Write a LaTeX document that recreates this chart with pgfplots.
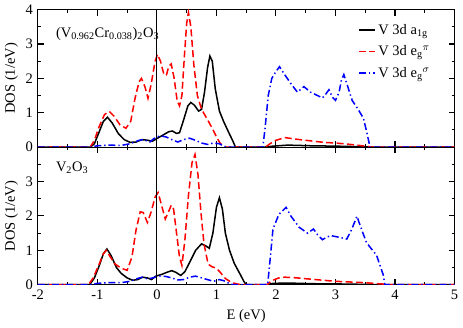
\documentclass[border=0pt]{standalone}
\usepackage{fontspec}
\setmainfont{Liberation Serif}
\usepackage{pgfplots}
\pgfplotsset{compat=1.18}
\usepgfplotslibrary{groupplots}
\definecolor{dosred}{RGB}{255,0,0}
\definecolor{dosblue}{RGB}{0,0,255}
\tikzset{
  a1g/.style={draw=black, line width=1.3pt},
  egpi/.style={draw=dosred, line width=1.3pt, dash pattern=on 6pt off 3pt},
  egsig/.style={draw=dosblue, line width=1.3pt, dash pattern=on 6pt off 2.5pt on 1.2pt off 2.5pt},
}
\pgfplotsset{legend image code/.code={\draw[mark repeat=2,mark phase=2,#1] plot coordinates {(0cm,0cm) (0.25cm,0cm) (0.5cm,0cm)};}}
\begin{document}
\fontsize{12.5}{15}\selectfont
\begin{tikzpicture}
\begin{groupplot}[
  group style={group size=1 by 2, vertical sep=0pt, x descriptions at=edge bottom},
  width=12.63cm, height=4.17cm, scale only axis,
  xmin=-2, xmax=5, ymin=0, ymax=4,
  xtick={-2,-1,0,1,2,3,4,5}, minor x tick num=1,
  minor y tick num=1,
  tick align=inside,
  major tick length=0.18cm, minor tick length=0.09cm,
  tick style={black, line width=0.9pt},
  axis line style={line width=1pt},
  /pgf/number format/assume math mode=true,
  ticklabel style={font=\fontsize{12.5}{15}\selectfont},
  label style={font=\fontsize{12.5}{15}\selectfont},
  ylabel={DOS (1/eV)},
  ylabel shift=-2pt,
]
\nextgroupplot[ytick={0,1,2,3,4},
  legend style={at={(0.955,0.93)}, anchor=north east, draw=none, fill=none,
    font=\fontsize{12.5}{15}\selectfont, row sep=4pt},
  legend cell align=left]
\addplot[a1g] coordinates {(-2,0)(-1.12,0)(-1.05,0.1)(-0.98,0.4)(-0.9,0.75)(-0.83,0.87)(-0.75,0.7)(-0.65,0.4)(-0.55,0.22)(-0.45,0.14)(-0.35,0.15)(-0.25,0.22)(-0.15,0.2)(-0.08,0.17)(0.0,0.25)(0.1,0.35)(0.2,0.45)(0.26,0.47)(0.33,0.4)(0.38,0.42)(0.45,0.8)(0.52,1.2)(0.57,1.3)(0.63,1.22)(0.7,1.05)(0.75,1.1)(0.8,1.6)(0.85,2.3)(0.89,2.65)(0.93,2.5)(0.98,1.7)(1.05,1.05)(1.12,0.75)(1.2,0.45)(1.27,0.2)(1.32,0)(1.8,0)(1.95,0.03)(2.2,0.06)(2.6,0.04)(3.0,0.03)(3.5,0.01)(3.7,0)(5,0)};
\addlegendentry{V 3d a\textsubscript{1g}}
\addplot[egpi] coordinates {(-2,0)(-1.12,0)(-1.05,0.2)(-0.97,0.6)(-0.88,0.95)(-0.8,1.04)(-0.72,0.9)(-0.62,0.65)(-0.52,0.55)(-0.44,0.75)(-0.37,1.4)(-0.3,1.9)(-0.26,2.0)(-0.2,1.75)(-0.15,1.42)(-0.1,1.8)(-0.03,2.5)(0.01,2.7)(0.06,2.5)(0.12,2.1)(0.16,2.1)(0.2,2.35)(0.24,2.42)(0.29,2.0)(0.34,1.35)(0.38,1.2)(0.42,1.5)(0.46,2.6)(0.5,3.6)(0.53,3.92)(0.57,3.5)(0.62,2.4)(0.68,1.5)(0.75,1.1)(0.85,0.8)(0.93,0.55)(1.0,0.3)(1.06,0.12)(1.12,0.03)(1.17,0)(1.82,0)(1.9,0.1)(2.0,0.2)(2.15,0.28)(2.3,0.24)(2.5,0.2)(2.8,0.14)(3.0,0.12)(3.2,0.09)(3.4,0.05)(3.55,0.02)(3.62,0)(5,0)};
\addlegendentry{V 3d e\textsubscript{g}\textsuperscript{$\pi$}}
\addplot[egsig] coordinates {(-2,0)(-1.12,0)(-1.0,0.04)(-0.8,0.06)(-0.6,0.05)(-0.45,0.1)(-0.3,0.2)(-0.22,0.22)(-0.12,0.15)(-0.05,0.25)(0.05,0.33)(0.15,0.3)(0.25,0.22)(0.35,0.15)(0.45,0.22)(0.55,0.26)(0.65,0.2)(0.75,0.12)(0.85,0.08)(0.95,0.12)(1.05,0.1)(1.12,0.03)(1.18,0)(1.78,0)(1.82,0.6)(1.87,1.5)(1.93,2.0)(2.0,2.2)(2.06,2.34)(2.15,2.1)(2.25,1.85)(2.36,1.6)(2.47,1.76)(2.58,1.6)(2.7,1.5)(2.78,1.43)(2.84,1.55)(2.89,1.67)(2.95,1.45)(3.0,1.36)(3.06,1.6)(3.1,1.95)(3.14,2.11)(3.19,1.85)(3.28,1.36)(3.38,1.1)(3.47,0.84)(3.53,0.4)(3.58,0)(5,0)};
\addlegendentry{V 3d e\textsubscript{g}\textsuperscript{$\sigma$}}
\addplot[black, line width=1pt, forget plot] coordinates {(0,0)(0,4)};
\node[anchor=west] at (axis cs:-1.78,3.3) {(V\textsubscript{0.962}Cr\textsubscript{0.038})\textsubscript{2}O\textsubscript{3}};
\nextgroupplot[ytick={0,1,2,3,4}, yticklabels={0,1,2,3,}, xlabel={E (eV)}]
\addplot[a1g] coordinates {(-2,0)(-1.13,0)(-1.05,0.2)(-0.97,0.55)(-0.9,0.9)(-0.84,1.04)(-0.77,0.85)(-0.68,0.5)(-0.6,0.33)(-0.5,0.2)(-0.41,0.13)(-0.32,0.15)(-0.24,0.22)(-0.16,0.2)(-0.09,0.15)(-0.02,0.25)(0.08,0.3)(0.18,0.37)(0.25,0.41)(0.32,0.36)(0.4,0.27)(0.47,0.38)(0.55,0.65)(0.65,1.0)(0.75,1.19)(0.83,1.12)(0.88,1.06)(0.94,1.5)(1.0,2.25)(1.05,2.53)(1.1,2.2)(1.15,1.5)(1.22,1.0)(1.3,0.62)(1.4,0.3)(1.46,0.1)(1.5,0)(1.85,0)(1.95,0.04)(2.2,0.05)(2.6,0.03)(3.2,0.02)(3.8,0)(5,0)};
\addplot[egpi] coordinates {(-2,0)(-1.15,0)(-1.07,0.2)(-0.97,0.6)(-0.9,0.9)(-0.85,1.0)(-0.78,0.8)(-0.7,0.6)(-0.6,0.48)(-0.5,0.42)(-0.42,0.8)(-0.35,1.6)(-0.28,2.12)(-0.23,2.1)(-0.16,1.81)(-0.1,2.1)(-0.03,2.55)(0.02,2.68)(0.08,2.3)(0.14,1.91)(0.19,2.1)(0.24,2.31)(0.28,2.2)(0.33,1.5)(0.38,0.8)(0.42,0.56)(0.47,1.3)(0.53,2.6)(0.59,3.55)(0.64,3.79)(0.69,3.2)(0.74,2.1)(0.79,1.2)(0.86,0.6)(0.93,0.52)(1.0,0.48)(1.07,0.35)(1.15,0.18)(1.25,0.07)(1.35,0.02)(1.45,0)(1.85,0)(1.93,0.12)(2.05,0.2)(2.15,0.22)(2.35,0.2)(2.6,0.16)(3.0,0.1)(3.5,0.06)(3.8,0.02)(3.9,0)(5,0)};
\addplot[egsig] coordinates {(-2,0)(-1.12,0)(-1.0,0.04)(-0.85,0.06)(-0.6,0.06)(-0.45,0.1)(-0.33,0.18)(-0.25,0.22)(-0.15,0.17)(-0.07,0.2)(0.03,0.25)(0.15,0.24)(0.25,0.2)(0.35,0.14)(0.45,0.15)(0.55,0.22)(0.65,0.25)(0.75,0.2)(0.85,0.15)(0.95,0.1)(1.05,0.15)(1.12,0.12)(1.2,0.05)(1.28,0)(1.86,0)(1.9,0.7)(1.95,1.62)(2.05,2.05)(2.17,2.25)(2.25,2.0)(2.39,1.67)(2.53,1.5)(2.63,1.62)(2.7,1.45)(2.78,1.31)(2.85,1.38)(2.92,1.43)(3.06,1.38)(3.19,1.33)(3.27,1.6)(3.36,1.99)(3.44,1.6)(3.52,1.23)(3.6,1.05)(3.69,0.86)(3.76,0.5)(3.8,0.3)(3.83,0)(5,0)};
\addplot[black, line width=1pt, forget plot] coordinates {(0,0)(0,4)};
\node[anchor=west] at (axis cs:-1.78,3.4) {V\textsubscript{2}O\textsubscript{3}};
\end{groupplot}
\end{tikzpicture}
\end{document}
